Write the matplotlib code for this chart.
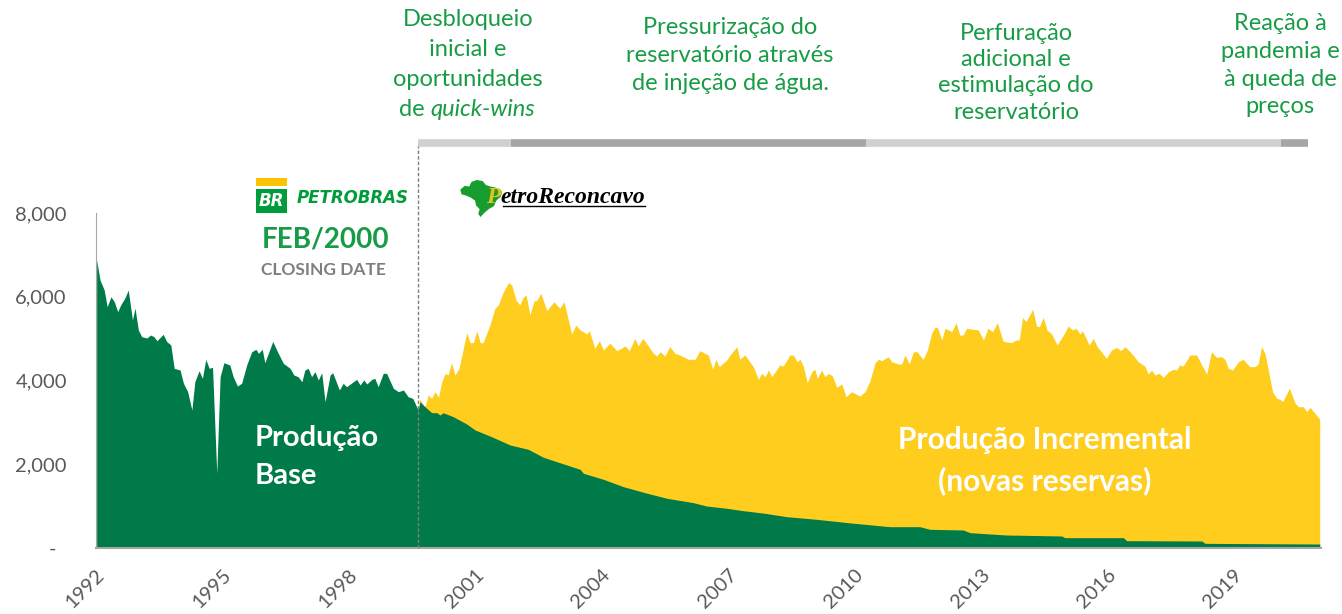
"""
Production chart: base (Petrobras era) vs incremental production (PetroReconcavo).
"""

import numpy as np
import matplotlib
matplotlib.use("Agg")
import matplotlib.pyplot as plt
from matplotlib.patches import Rectangle, Polygon
from matplotlib.lines import Line2D

# --- data ---
base_years = [
    1991.88, 1991.96, 1992.06, 1992.13, 1992.22, 1992.30, 1992.38, 1992.45, 1992.55, 1992.63,
    1992.73, 1992.79, 1992.87, 1992.95, 1993.07, 1993.16, 1993.24, 1993.31, 1993.46, 1993.54,
    1993.64, 1993.72, 1993.86, 1993.94, 1994.04, 1994.14, 1994.21, 1994.31, 1994.39, 1994.47,
    1994.55, 1994.63, 1994.73, 1994.81, 1994.90, 1995.04, 1995.12, 1995.22, 1995.32, 1995.44,
    1995.56, 1995.66, 1995.72, 1995.81, 1995.87, 1996.06, 1996.17, 1996.31, 1996.47, 1996.56,
    1996.66, 1996.75, 1996.82, 1996.90, 1996.98, 1997.06, 1997.14, 1997.22, 1997.30, 1997.42,
    1997.48, 1997.64, 1997.73, 1997.81, 1998.05, 1998.13, 1998.22, 1998.29, 1998.41, 1998.48,
    1998.56, 1998.68, 1998.76, 1998.92, 1999.04, 1999.16, 1999.27, 1999.38, 1999.51, 1999.55,
    1999.67, 1999.83, 1999.95, 2000.03, 2000.10, 2000.34, 2000.66, 2000.86, 2001.25, 2001.69,
    2002.12, 2002.48, 2002.87, 2003.35, 2003.43, 2003.90, 2004.38, 2004.89, 2005.41, 2006.04,
    2006.35, 2006.83, 2007.22, 2007.74, 2008.25, 2008.96, 2009.75, 2010.70, 2011.41, 2011.65,
    2012.44, 2012.60, 2013.47, 2014.78, 2014.85, 2016.24, 2016.32, 2018.10, 2018.18, 2020.90,
]
base_prod = [
    6877, 6400, 6160, 5762, 6000, 5880, 5643, 5803, 5970, 6160,
    5445, 5731, 5206, 5046, 5015, 5086, 5046, 4950, 5103, 4934,
    4848, 4291, 4250, 3933, 3733, 3295, 3971, 4234, 4052, 4505,
    4291, 4315, 1784, 4091, 4425, 4370, 4091, 3868, 3933, 4370,
    4688, 4745, 4649, 4745, 4425, 4934, 4688, 4410, 4291, 4131,
    4091, 3971, 4250, 4291, 4091, 4210, 4012, 4187, 3494, 4131,
    4187, 3773, 3933, 3852, 4028, 3892, 4012, 3916, 4028, 4052,
    3852, 4171, 4171, 3813, 3733, 3773, 3613, 3574, 3295, 3494,
    3374, 3231, 3231, 3176, 3231, 3136, 2961, 2818, 2658, 2460,
    2357, 2166, 2037, 1879, 1784, 1641, 1464, 1321, 1187, 1082,
    1003, 948, 891, 828, 748, 685, 600, 509, 509, 446,
    430, 366, 310, 287, 247, 247, 175, 167, 111, 95,
]

total_years = [
    1999.51, 1999.55, 1999.63, 1999.67, 1999.75, 1999.83, 1999.91, 1999.99, 2000.07, 2000.15,
    2000.22, 2000.30, 2000.38, 2000.48, 2000.66, 2000.74, 2000.82, 2000.90, 2000.98, 2001.05,
    2001.21, 2001.33, 2001.41, 2001.53, 2001.65, 2001.73, 2001.83, 2001.92, 2002.00, 2002.07,
    2002.16, 2002.26, 2002.32, 2002.42, 2002.56, 2002.73, 2002.87, 2002.97, 2003.15, 2003.25,
    2003.35, 2003.51, 2003.57, 2003.70, 2003.81, 2003.90, 2004.06, 2004.22, 2004.42, 2004.52,
    2004.65, 2004.73, 2004.84, 2004.97, 2005.09, 2005.17, 2005.25, 2005.36, 2005.48, 2005.60,
    2005.72, 2005.92, 2006.08, 2006.19, 2006.39, 2006.50, 2006.57, 2006.65, 2006.83, 2006.91,
    2007.07, 2007.14, 2007.26, 2007.46, 2007.58, 2007.66, 2007.74, 2007.82, 2007.90, 2008.09,
    2008.17, 2008.33, 2008.41, 2008.50, 2008.57, 2008.65, 2008.74, 2008.85, 2008.92, 2008.98,
    2009.08, 2009.16, 2009.24, 2009.34, 2009.44, 2009.56, 2009.66, 2009.79, 2009.99, 2010.11,
    2010.23, 2010.35, 2010.43, 2010.51, 2010.66, 2010.74, 2010.90, 2010.98, 2011.06, 2011.16,
    2011.26, 2011.34, 2011.49, 2011.59, 2011.69, 2011.77, 2011.83, 2011.93, 2012.01, 2012.17,
    2012.27, 2012.36, 2012.44, 2012.52, 2012.80, 2012.92, 2013.03, 2013.14, 2013.25, 2013.39,
    2013.59, 2013.69, 2013.77, 2013.85, 2013.93, 2014.09, 2014.18, 2014.25, 2014.34, 2014.43,
    2014.54, 2014.67, 2014.85, 2014.93, 2015.04, 2015.12, 2015.21, 2015.27, 2015.43, 2015.53,
    2015.61, 2015.84, 2015.96, 2016.08, 2016.18, 2016.28, 2016.47, 2016.59, 2016.75, 2016.83,
    2016.91, 2016.99, 2017.09, 2017.19, 2017.31, 2017.42, 2017.50, 2017.58, 2017.66, 2017.82,
    2017.98, 2018.10, 2018.22, 2018.33, 2018.45, 2018.57, 2018.65, 2018.73, 2018.83, 2018.97,
    2019.08, 2019.24, 2019.36, 2019.44, 2019.52, 2019.60, 2019.68, 2019.78, 2019.88, 2019.96,
    2020.02, 2020.18, 2020.31, 2020.39, 2020.51, 2020.59, 2020.67, 2020.79, 2020.90,
]
total_prod = [
    3295, 3560, 3415, 3374, 3654, 3574, 3733, 3598, 3971, 4171,
    4131, 4425, 4131, 4291, 5142, 4903, 4903, 5189, 4903, 4903,
    5325, 5724, 5803, 6121, 6336, 6280, 5922, 5803, 5986, 6042,
    5564, 5906, 5906, 6082, 5667, 5882, 5724, 5882, 5110, 5325,
    5206, 5110, 5189, 4769, 4950, 4728, 4890, 4712, 4824, 4712,
    5007, 4824, 5007, 4824, 4649, 4585, 4688, 4585, 4808, 4649,
    4609, 4506, 4506, 4712, 4609, 4267, 4506, 4330, 4490, 4609,
    4808, 4506, 4609, 4330, 4028, 4171, 4091, 4250, 4091, 4370,
    4346, 4609, 4609, 4449, 4506, 4330, 3947, 4210, 4267, 4052,
    4250, 4091, 4171, 4107, 3837, 3916, 3613, 3733, 3630, 3733,
    3995, 4425, 4506, 4473, 4569, 4449, 4394, 4394, 4609, 4394,
    4688, 4688, 4506, 4728, 5126, 5270, 5270, 4967, 5246, 5166,
    5380, 5086, 5086, 5246, 5206, 4967, 5246, 5166, 5380, 4934,
    4903, 4967, 4967, 5509, 5405, 5700, 5301, 5285, 5509, 5206,
    5110, 4848, 5142, 5301, 5206, 5246, 5110, 5189, 4848, 5007,
    4824, 4530, 4728, 4792, 4712, 4808, 4609, 4449, 4346, 4155,
    4250, 4131, 4171, 4075, 4210, 4267, 4250, 4370, 4346, 4609,
    4609, 4370, 4155, 4688, 4554, 4569, 4506, 4291, 4250, 4449,
    4506, 4330, 4330, 4394, 4808, 4649, 4250, 3733, 3574, 3550,
    3494, 3813, 3470, 3374, 3374, 3255, 3358, 3215, 3072,
]

closing_year = 1999.51
year_ticks = [1992, 1995, 1998, 2001, 2004, 2007, 2010, 2013, 2016, 2019]
y_ticks = [0, 2000, 4000, 6000, 8000]
y_labels = ['-  ', '2,000', '4,000', '6,000', '8,000']

# timeline phases above the chart
phase_bounds = [1999.51, 2001.71, 2010.14, 2019.98, 2020.63]
phase_colors = ['#D0D0D0', '#A6A6A6', '#D0D0D0', '#A6A6A6']
phase_texts = [
    ['Desbloqueio', 'inicial e', 'oportunidades'],
    ['Pressurização do', 'reservatório através', 'de injeção de água.'],
    ['Perfuração', 'adicional e', 'estimulação do', 'reservatório'],
    ['Reação à', 'pandemia e', 'à queda de', 'preços'],
]

GREEN = '#007A48'
YELLOW = '#FECD1E'
TXT_GREEN = '#179C45'
AXIS_GREY = '#595959'

W, H = 1342, 614


def fx(x):
    return x / W


def fy(y):
    return 1 - y / H


plt.rcParams['font.family'] = ['Lato', 'DejaVu Sans']

fig = plt.figure(figsize=(W / 100, H / 100), dpi=100)
ax = fig.add_axes([fx(96), fy(548), (1321 - 96) / W, 335 / H])

# stacked look: total in yellow, base in green on top
ax.fill_between(total_years, 0, total_prod, color=YELLOW, lw=0, zorder=2)
ax.fill_between(base_years, 0, base_prod, color=GREEN, lw=0, zorder=3)

ax.set_xlim(1991.865, 2020.93)
ax.set_ylim(0, 8000)

for s in ['top', 'right']:
    ax.spines[s].set_visible(False)
ax.spines['left'].set_color('#A6A6A6')
ax.spines['left'].set_zorder(4)
ax.spines['bottom'].set_color('#A6A6A6')
ax.spines['bottom'].set_linewidth(1.5)
ax.spines['bottom'].set_zorder(4)

ax.set_yticks(y_ticks)
ax.set_yticklabels(y_labels)
ax.tick_params(axis='y', length=0, pad=21, labelsize=14.5, labelcolor=AXIS_GREY)

ax.set_xticks(year_ticks)
ax.set_xticklabels([str(y) for y in year_ticks])
ax.tick_params(axis='x', length=0, pad=17.5, labelsize=14.5, labelcolor=AXIS_GREY)
for lab in ax.get_xticklabels():
    lab.set_rotation(45)
    lab.set_ha('right')
    lab.set_va('center')
    lab.set_rotation_mode('anchor')

# closing date marker and timeline bar
xtr = ax.get_xaxis_transform()
ax.plot([closing_year, closing_year], [0, 1.209], transform=xtr, color='#7F7F7F',
        lw=1, ls=(0, (2.5, 1.5)), clip_on=False, zorder=5)
for i, c in enumerate(phase_colors):
    ax.plot([phase_bounds[i], phase_bounds[i + 1]], [1.209, 1.209], transform=xtr,
            color=c, lw=5.5, solid_capstyle='butt', clip_on=False, zorder=5)

# phase descriptions
phase_x = [468, 730, 1016, 1280]
phase_y0 = [20, 28, 33, 24]
phase_dy = [30, 28, 26.5, 27.5]
for txt, x0, y0, dy in zip(phase_texts, phase_x, phase_y0, phase_dy):
    for k, line in enumerate(txt):
        fig.text(fx(x0), fy(y0 + k * dy), line, ha='center', va='center',
                 fontsize=17, color=TXT_GREEN)
fig.text(fx(425), fy(110), 'de', ha='right', va='center', fontsize=17, color=TXT_GREEN)
fig.text(fx(430), fy(110), 'quick-wins', ha='left', va='center', fontsize=17,
         color=TXT_GREEN, style='italic')

# Petrobras logo
fig.add_artist(Rectangle((fx(256), fy(186)), 31 / W, 8 / H, color='#FDC300', lw=0))
fig.add_artist(Rectangle((fx(256), fy(213)), 31 / W, 24 / H, color='#009B3A', lw=0))
fig.text(fx(271.5), fy(201), 'BR', ha='center', va='center', fontsize=12,
         color='white', family='DejaVu Sans', weight='bold', style='italic')
fig.text(fx(297), fy(198), 'PETROBRAS', ha='left', va='center', fontsize=12,
         color='#009B3A', family='DejaVu Sans', weight='bold', style='italic')
fig.text(fx(326), fy(240), 'FEB/2000', ha='center', va='center', fontsize=20,
         color=TXT_GREEN, weight='bold')
fig.text(fx(323), fy(270), 'CLOSING DATE', ha='center', va='center', fontsize=12.5,
         color='#7F7F7F', weight='bold')

# PetroReconcavo logo (rough map of Brazil + name)
brazil = np.array([
    (0.05, 0.30), (0.15, 0.20), (0.25, 0.22), (0.30, 0.10), (0.42, 0.05), (0.55, 0.08),
    (0.62, 0.18), (0.72, 0.22), (0.85, 0.25), (0.98, 0.35), (0.95, 0.48), (0.85, 0.58),
    (0.80, 0.72), (0.68, 0.80), (0.58, 0.90), (0.50, 1.00), (0.45, 0.92), (0.48, 0.80),
    (0.40, 0.70), (0.38, 0.58), (0.28, 0.50), (0.18, 0.45), (0.08, 0.42),
])
map_px = np.column_stack([fx(458 + brazil[:, 0] * 45), fy(178 + brazil[:, 1] * 39)])
fig.add_artist(Polygon(map_px, closed=True, color='#179C2E', lw=0))
fig.text(fx(486), fy(198), 'P', ha='left', va='center', fontsize=17,
         color='#E8C21A', family='Liberation Serif', weight='bold', style='italic')
fig.text(fx(500), fy(198), 'etroReconcavo', ha='left', va='center', fontsize=17,
         color='black', family='Liberation Serif', weight='bold', style='italic')
fig.add_artist(Line2D([fx(503), fx(645)], [fy(206), fy(206)], color='black', lw=1))

# area labels
fig.text(fx(255), fy(438), 'Produção', ha='left', va='center', fontsize=21,
         color='white', weight='bold')
fig.text(fx(255), fy(476), 'Base', ha='left', va='center', fontsize=21,
         color='white', weight='bold')
fig.text(fx(1045), fy(440), 'Produção Incremental', ha='center', va='center',
         fontsize=21.5, color='white', weight='bold')
fig.text(fx(1045), fy(481), '(novas reservas)', ha='center', va='center',
         fontsize=21.5, color='white', weight='bold')

fig.savefig('out.png', dpi=100)
